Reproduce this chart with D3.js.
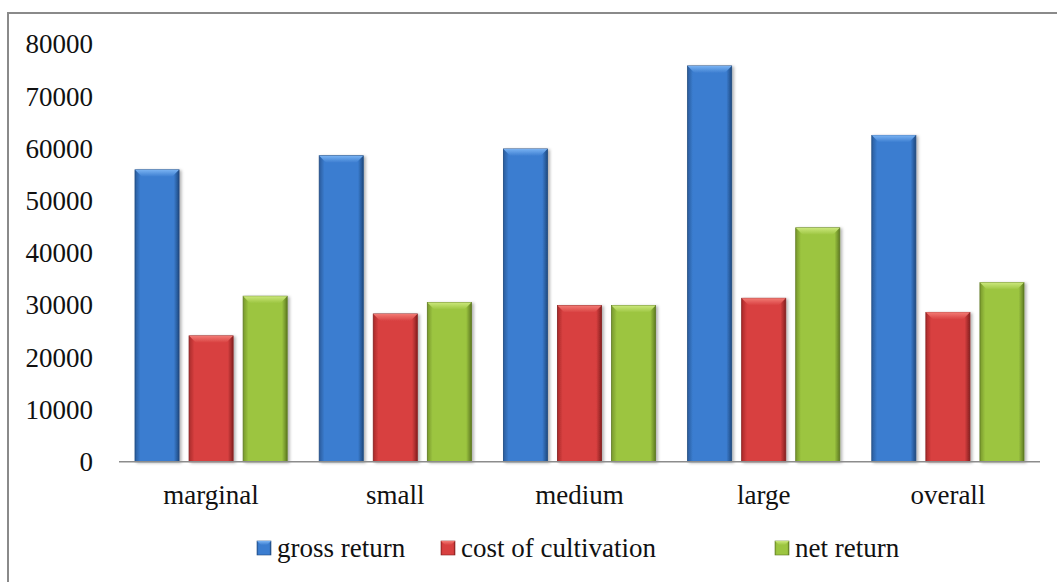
<!DOCTYPE html>
<html>
<head>
<meta charset="utf-8">
<script src="https://cdn.jsdelivr.net/npm/d3@7"></script>
<style>
  html, body { margin: 0; padding: 0; background: #fff; }
  svg { display: block; }
</style>
</head>
<body>
<svg id="chart" width="1057" height="582"></svg>
<script>
const categories = ["marginal", "small", "medium", "large", "overall"];
const seriesNames = ["gross return", "cost of cultivation", "net return"];
const grossReturn = [55900, 58600, 59900, 75800, 62500];
const costOfCultivation = [24100, 28300, 29900, 31300, 28600];
const netReturn = [31700, 30500, 29900, 44800, 34300];
const yTicks = [0, 10000, 20000, 30000, 40000, 50000, 60000, 70000, 80000];

(function () {
const FONT = '"Liberation Serif", "Times New Roman", "DejaVu Serif", serif';
const seriesValues = [grossReturn, costOfCultivation, netReturn];
const palette = [
  { mid: "#3b7dd0", edge: "#2a5c9c", top: "#79b2f2", dark: "#1f4a80" },
  { mid: "#d84040", edge: "#a92a2a", top: "#f27a74", dark: "#862020" },
  { mid: "#9cc540", edge: "#78982d", top: "#cbe77c", dark: "#5e7a22" }
];

const svg = d3.select("#chart");
const defs = svg.append("defs");

palette.forEach((c, i) => {
  const g = defs.append("linearGradient").attr("id", "grad" + i)
    .attr("x1", "0%").attr("x2", "100%").attr("y1", "0%").attr("y2", "0%");
  g.append("stop").attr("offset", "0%").attr("stop-color", c.edge);
  g.append("stop").attr("offset", "12%").attr("stop-color", c.mid);
  g.append("stop").attr("offset", "88%").attr("stop-color", c.mid);
  g.append("stop").attr("offset", "100%").attr("stop-color", c.dark);
  const t = defs.append("linearGradient").attr("id", "topg" + i)
    .attr("x1", "0%").attr("x2", "0%").attr("y1", "0%").attr("y2", "100%");
  t.append("stop").attr("offset", "0%").attr("stop-color", c.top);
  t.append("stop").attr("offset", "100%").attr("stop-color", c.mid);
});

const filter = defs.append("filter").attr("id", "shadow")
  .attr("x", "-20%").attr("y", "-5%").attr("width", "150%").attr("height", "115%");
filter.append("feDropShadow").attr("dx", 2).attr("dy", 1).attr("stdDeviation", 1.5)
  .attr("flood-color", "#000").attr("flood-opacity", 0.3);

// outer frame
svg.append("rect").attr("x", 8).attr("y", 13).attr("width", 1070).attr("height", 600)
  .attr("fill", "none").attr("stroke", "#8a8a8a").attr("stroke-width", 2);

const plotLeft = 119, plotRight = 1040, plotTop = 44, plotBottom = 461.7;

const x0 = d3.scaleBand().domain(categories).range([plotLeft, plotRight]).padding(0);
const inset = 16;
const x1 = d3.scaleBand().domain(seriesNames)
  .range([inset, x0.bandwidth() - inset]).paddingInner(0.185);
const y = d3.scaleLinear().domain([0, 80000]).range([plotBottom, plotTop]);

// y axis labels
const yAxis = d3.axisLeft(y).tickValues(yTicks).tickSize(0).tickPadding(0)
  .tickFormat(d3.format("d"));
const ya = svg.append("g").attr("transform", "translate(93,0)").call(yAxis);
ya.select(".domain").remove();
ya.selectAll("text").attr("dy", "0.33em")
  .style("font-family", FONT).style("font-size", "27px").style("fill", "#111");

// bars
const groups = svg.append("g").selectAll("g").data(categories).join("g")
  .attr("transform", d => `translate(${x0(d)},0)`);

seriesNames.forEach((s, si) => {
  const bw = x1.bandwidth();
  const bev = 7;
  const bars = groups.append("g").attr("filter", "url(#shadow)");
  bars.append("rect")
    .attr("x", x1(s))
    .attr("y", (d, ci) => y(seriesValues[si][ci]))
    .attr("width", bw)
    .attr("height", (d, ci) => y(0) - y(seriesValues[si][ci]))
    .attr("fill", `url(#grad${si})`)
    .attr("stroke", palette[si].dark).attr("stroke-width", 0.8);
  bars.append("path")
    .attr("d", (d, ci) => {
      const yt = y(seriesValues[si][ci]);
      const xa = x1(s), xb = x1(s) + bw;
      return `M${xa},${yt}L${xb},${yt}L${xb - bev},${yt + bev}L${xa + bev},${yt + bev}Z`;
    })
    .attr("fill", `url(#topg${si})`);
});

// baseline
svg.append("line").attr("x1", plotLeft).attr("x2", plotRight)
  .attr("y1", plotBottom).attr("y2", plotBottom)
  .attr("stroke", "#8c8c8c").attr("stroke-width", 1.5);

// category axis
const xAxis = d3.axisBottom(x0).tickSize(0).tickPadding(0);
const xa = svg.append("g").attr("transform", `translate(0,${plotBottom})`).call(xAxis);
xa.select(".domain").remove();
xa.selectAll("text").attr("dy", "0").attr("y", 42)
  .style("font-family", FONT).style("font-size", "27px").style("fill", "#111");

// legend
const legendX = [257, 441, 775];
const legend = svg.append("g");
seriesNames.forEach((s, i) => {
  const g = legend.append("g").attr("transform", `translate(${legendX[i]},548)`);
  g.append("rect").attr("x", 0).attr("y", -7).attr("width", 14).attr("height", 14)
    .attr("fill", `url(#grad${i})`).attr("stroke", palette[i].dark).attr("stroke-width", 0.6);
  g.append("path").attr("d", "M0,-7L14,-7L10,-3L4,-3Z").attr("fill", `url(#topg${i})`);
  g.append("text").attr("x", 20).attr("y", 0).attr("dy", "0.33em")
    .style("font-family", FONT).style("font-size", "27px").style("fill", "#111")
    .text(s);
});
})();
</script>
</body>
</html>
